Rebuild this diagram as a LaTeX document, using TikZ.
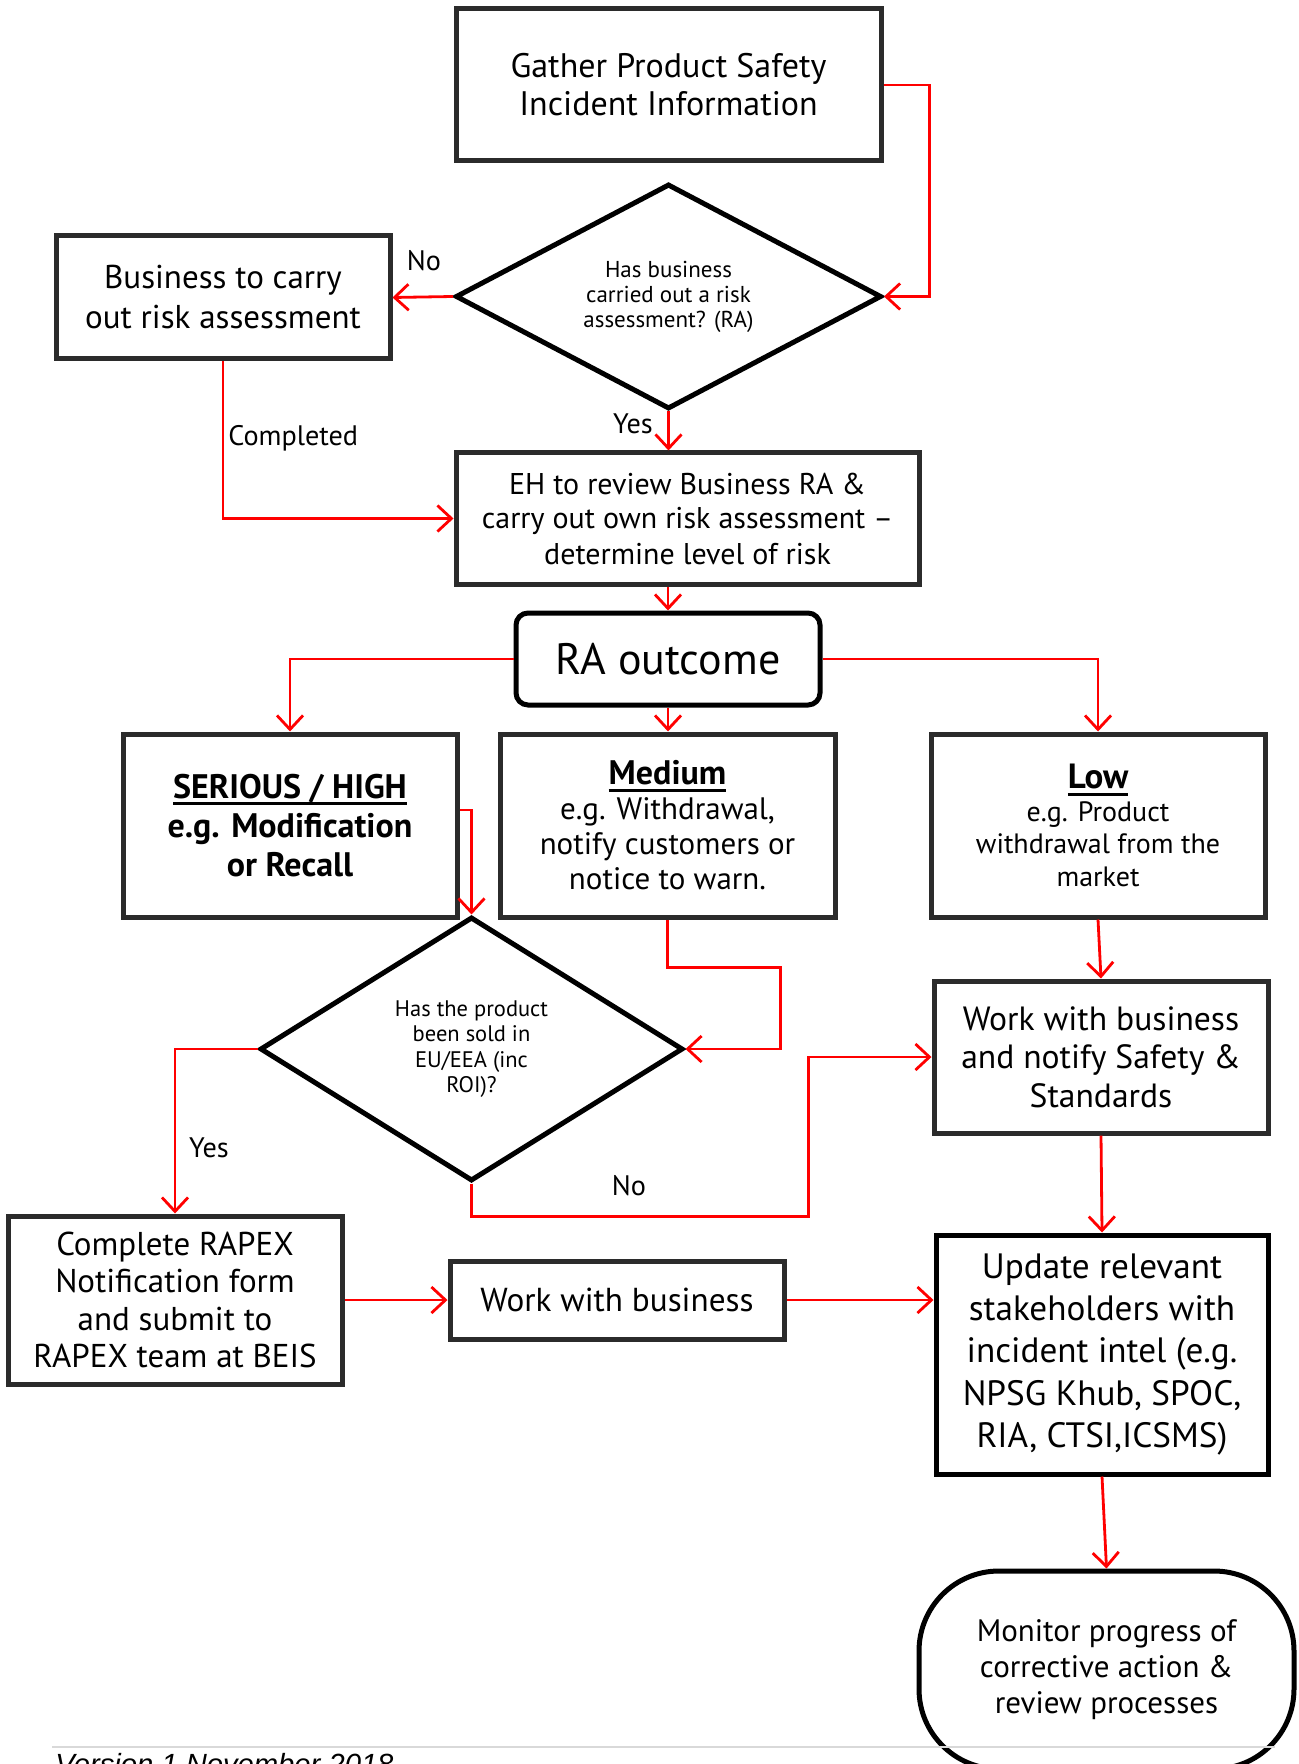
\documentclass[tikz,border=0pt]{standalone}
\usepackage{fontspec}
\setmainfont{PT Sans}
\newfontfamily\footfont{Liberation Sans}
\usetikzlibrary{arrows.meta,shapes.geometric,calc}
\definecolor{boxgray}{HTML}{2B2B2B}
\definecolor{lnred}{HTML}{FF0000}
\definecolor{footgray}{HTML}{D9D9D9}
\newcommand\fsz[2]{\fontsize{#1}{#2}\selectfont}
\newcommand\myul[1]{\begingroup\setbox0=\hbox{#1}\rlap{\rule[-0.2em]{\wd0}{0.085em}}\box0\endgroup}
\begin{document}
\begin{tikzpicture}[x=0.5pt,y=-0.5pt,
  box/.style={draw=boxgray, line width=2.5pt, rectangle, align=center, inner sep=0pt},
  wh/.style 2 args={minimum width=#1*0.5pt, minimum height=#2*0.5pt},
  dia/.style={draw=black, line width=2.5pt, diamond, align=center, inner sep=0pt},
  conn/.style={draw=lnred, line width=1.4pt, -{Straight Barb[length=7pt,width=13pt,line width=1.4pt]}},
  lbl/.style={font=\fsz{14.1}{16}, inner sep=0pt}
]
\fill[white] (0,0) rectangle (1298,1764);
\clip (0,0) rectangle (1298,1764);

% nodes
\node[box, wh={425}{152}, font=\fsz{17}{19}] (gather) at (668.5,85) {Gather Product Safety\\Incident Information};
\node[dia, draw=black, wh={426}{225}, aspect=1.9, font=\fsz{11.5}{12.5}] (q1) at (668.5,296.5) {Has business\\carried out a risk\\assessment? (RA)};
\node[box, wh={334}{123}, font=\fsz{16.5}{20}] (biz) at (223,297.5) {Business to carry\\out risk assessment};
\node[box, wh={463}{131}, font=\fsz{15}{17.5}] (eh) at (687.5,518.5) {EH to review Business RA \&\\carry out own risk assessment –\\determine level of risk};
\node[box, draw=black, rounded corners=6pt, wh={304}{92}, font=\fsz{22}{24}] (ra) at (668,659) {RA outcome};
\node[box, wh={334}{183}, font=\fsz{17}{19.5}\bfseries] (serious) at (290,825.5) {\myul{SERIOUS / HIGH}\\e.g. Modification\\or Recall};
\node[box, wh={335}{183}, font=\fsz{15.5}{17.5}] (medium) at (667.5,825.5) {{\fsz{17}{17.5}\bfseries\myul{Medium}}\\e.g. Withdrawal,\\notify customers or\\notice to warn.};
\node[box, wh={334}{183}, font=\fsz{14}{16.3}] (low) at (1098,825.5) {{\fsz{17.5}{16.3}\bfseries\myul{Low}}\\e.g. Product\\withdrawal from the\\market};
\node[dia, wh={423}{264}, aspect=1.6, font=\fsz{11.25}{12.7}] (q2) at (471.5,1049) {Has the product\\been sold in\\EU/EEA (inc\\ROI)?};
\node[box, wh={334}{152}, font=\fsz{16.8}{19.25}] (notify) at (1101,1057) {Work with business\\and notify Safety \&\\Standards};
\node[box, wh={334}{168}, font=\fsz{16.5}{18.7}] (rapex) at (175,1300) {Complete RAPEX\\Notification form\\and submit to\\RAPEX team at BEIS};
\node[box, wh={334}{78}, font=\fsz{16.6}{18}] (workbiz) at (617,1300) {Work with business};
\node[box, draw=black, wh={332}{239}, font=\fsz{17.6}{21.1}] (update) at (1102,1354.5) {Update relevant\\stakeholders with\\incident intel (e.g.\\NPSG Khub, SPOC,\\RIA, CTSI,ICSMS)};
\node[box, draw=black, rounded corners=40pt, wh={375}{198}, font=\fsz{15.5}{18}] (monitor) at (1106.5,1670) {Monitor progress of\\corrective action \&\\review processes};

% connectors
\draw[conn] (gather.east) -- ++(46,0) |- (q1.east);
\draw[conn] (q1.west) -- (biz.east);
\draw[conn] (biz.south) |- (eh.west);
\draw[conn] (q1.south) -- (q1.south |- eh.north);
\draw[conn] (ra.north |- eh.south) -- (ra.north);
\draw[conn] (ra.west) -| (serious.north);
\draw[conn] (ra.east) -| (low.north);
\draw[conn] (ra.south) -- (ra.south |- medium.north);
\draw[conn] ([yshift=7.75pt]serious.east) -| (q2.north);
\draw[conn] (medium.south) -- ++(0,48) -- ++(113,0) |- (q2.east);
\draw[conn] (q2.west) -| (rapex.north);
\draw[conn] (q2.south) -- ++(0,33) -- ++(337,0) |- (notify.west);
\draw[conn] (low.south) -- (notify.north);
\draw[conn] (notify.south) -- (update.north);
\draw[conn] (rapex.east) -- (workbiz.west);
\draw[conn] (workbiz.east) -- (workbiz.east -| update.west);
\draw[conn] (update.south) -- (monitor.north);

% labels
\node[lbl] (lno1) at (424,261) {No};
\node[lbl, anchor=west] (lcomp) at (228,438) {Completed};
\node[lbl] (lyes1) at (633,424) {Yes};
\node[lbl] (lyes2) at (209,1148) {Yes};
\node[lbl] (lno2) at (629,1186) {No};

% footer
\draw[footgray, line width=0.8pt] (52,1747) -- (1275,1747);
\node[anchor=base west, inner sep=0pt, font=\footfont\itshape\fontsize{14.6}{16}\selectfont] (footer) at (55,1774) {Version 1 November 2018};
\end{tikzpicture}
\end{document}
